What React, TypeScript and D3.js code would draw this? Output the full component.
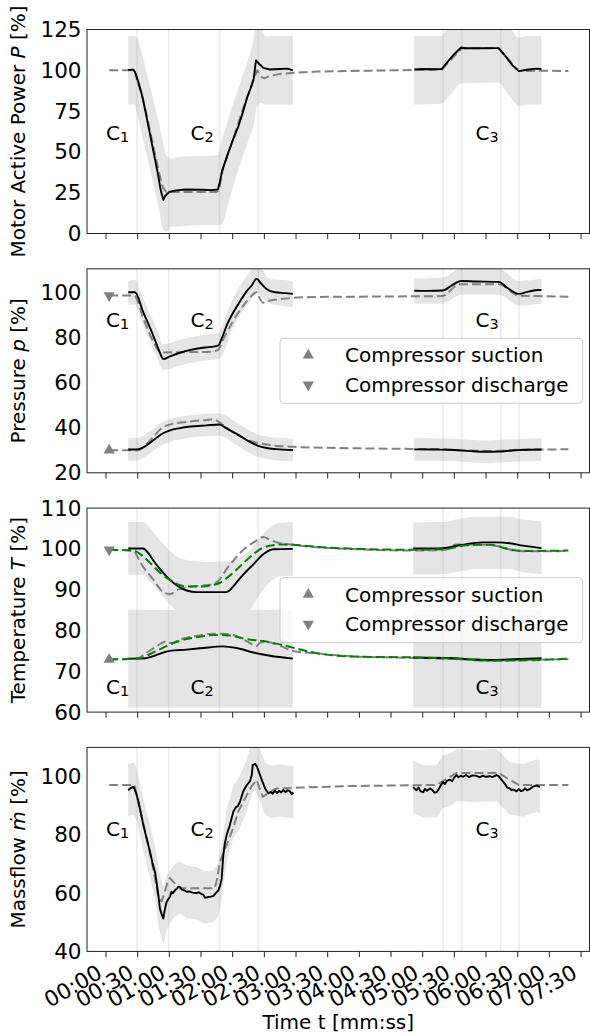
import React from "react";
import * as d3 from "d3";

type Pt = [number, number];
type Bd = [number, number, number];

// ---------------- axes / annotation data ----------------
const timeTicks = [0, 30, 60, 90, 120, 150, 180, 210, 240, 270, 300, 330, 360, 390, 420, 450];
const timeTickLabels = ["00:00", "00:30", "01:00", "01:30", "02:00", "02:30", "03:00", "03:30", "04:00", "04:30", "05:00", "05:30", "06:00", "06:30", "07:00", "07:30"];
const eventTimes = [29.4, 59.4, 107.6, 144.2, 319.3, 337, 374, 391.3];
const caseNames = ["1", "2", "3"];
const caseTimes = [0, 80, 350];
const legendLabels = ["Compressor suction", "Compressor discharge"];

const powerTicks = [0, 25, 50, 75, 100, 125];
const pressureTicks = [20, 40, 60, 80, 100];
const temperatureTicks = [60, 70, 80, 90, 100, 110];
const massflowTicks = [40, 60, 80, 100];

// ---------------- motor active power ----------------
const powerMeasA: Pt[] = [[21, 100.2], [26, 100.4], [28, 98], [31, 92], [34, 85], [37, 76], [41, 63], [45, 50], [49, 37], [52, 26], [54.3, 20.5], [56, 23], [60, 25.5], [65, 26.3], [75, 27], [90, 26.8], [100, 26.6], [106, 27], [108, 32], [110, 38.5], [115, 48], [120, 57], [125, 65], [130, 75], [134, 84], [137, 89], [140, 95], [142, 106], [145, 104], [149, 101.5], [155, 100.5], [165, 100.8], [172, 101], [177, 100]];
const powerMeasB: Pt[] = [[292, 100.5], [300, 100.8], [310, 100.6], [318, 100.7], [322, 104], [330, 110], [336.5, 114], [340, 113.5], [355, 113.5], [365, 113.6], [372, 113.6], [378, 109], [385, 103], [391, 99.5], [400, 100.5], [408, 101], [412.5, 100.8]];
const powerSim: Pt[] = [[3, 100], [27, 100], [30, 93], [34, 85], [38, 74], [42, 62], [46, 50], [50, 38], [54, 28], [57, 25.5], [70, 25.5], [90, 25.5], [105, 25.5], [107, 27], [111, 40], [120, 57], [130, 77], [137, 89], [143, 100], [147, 96], [150, 95], [155, 96.5], [165, 97.8], [180, 98.5], [200, 99.2], [250, 99.8], [292, 100.2], [318, 100.5], [337, 113.5], [372, 113.5], [391, 99.5], [410, 99.8], [438, 99.5]];
const powerBandA: Bd[] = [[21, 79, 121], [27, 79, 121], [30, 72, 119], [35, 58, 108], [40, 44, 95], [45, 30, 82], [50, 16, 68], [54, 3, 56], [57, 1, 48], [62, 4, 46], [70, 4.5, 47], [90, 5, 47.5], [106, 5, 48], [110, 6, 58], [115, 16, 68], [120, 28, 79], [125, 38, 88], [130, 48, 98], [135, 57, 107], [140, 67, 120], [143, 78, 130], [147, 80, 126], [151, 79, 121], [177, 79, 121]];
const powerBandB: Bd[] = [[292, 79, 121], [318, 79.5, 121], [322, 82, 125], [330, 88, 131], [337, 92, 135], [372, 92.5, 135], [378, 88, 130], [385, 82, 124], [391, 78, 120], [400, 79, 121], [412.5, 79, 121]];

// ---------------- pressure ----------------
const dischargeMeasA: Pt[] = [[21, 100], [27.5, 100], [35, 91.5], [45, 80.5], [50, 74.5], [54.3, 70.4], [60, 71.5], [70, 73.2], [80, 74.5], [90, 75.3], [100, 75.8], [106.5, 76.5], [110, 80], [115, 86], [120.5, 91], [127, 96], [133, 100.3], [138, 103], [142.6, 106], [147, 103.8], [152, 101.5], [160, 100], [170, 99.6], [177, 99.3]];
const dischargeMeasB: Pt[] = [[292, 100.7], [305, 100.6], [319, 100.8], [328, 103.2], [336.5, 105], [350, 104.8], [372, 104.6], [380, 102], [391, 99.3], [400, 100.3], [410, 101], [412.5, 101]];
const dischargeSim: Pt[] = [[3, 98.6], [27, 98.6], [30, 96], [35, 89], [40, 83], [45, 78], [50, 74], [53, 73.3], [60, 73.4], [80, 73.5], [100, 73.7], [106, 74.5], [112, 80], [120, 87], [130, 94], [138, 98.5], [142.6, 100], [146, 97], [149, 95.4], [155, 96.3], [165, 97], [177, 97.5], [200, 97.9], [250, 98.1], [318, 98.3], [335, 103.5], [372, 103.5], [391, 98.5], [410, 98.3], [438, 98]];
const dischargeBandA: Bd[] = [[21, 94.5, 105], [27.5, 94.5, 105.5], [32, 89, 101], [40, 80, 92], [48, 71.5, 84], [54.3, 65.5, 77], [60, 66, 77.5], [70, 67.5, 79], [90, 69.5, 81], [106.5, 70.5, 82], [112, 74, 88], [120, 84, 97], [130, 92, 105], [138, 97, 110], [142.6, 100, 112], [148, 97.5, 110], [155, 95, 106], [165, 94, 105.5], [177, 93.5, 105]];
const dischargeBandB: Bd[] = [[292, 95, 106], [319, 95, 106.5], [336.5, 99, 110.5], [372, 99, 110.5], [391, 94, 105], [412.5, 95, 106]];
const suctionMeasA: Pt[] = [[21, 30.3], [30, 30.4], [38, 32], [45, 34.5], [52, 37], [60, 38.7], [70, 39.8], [80, 40.5], [95, 41], [107, 41.4], [115, 39.5], [125, 36.9], [135, 34], [143, 32.2], [152, 31], [161, 30.5], [177, 30.1]];
const suctionMeasB: Pt[] = [[292, 30.4], [310, 30.3], [330, 30.1], [345, 29.6], [360, 29.3], [372, 29.4], [385, 29.9], [400, 30.2], [412.5, 30.3]];
const suctionSim: Pt[] = [[3, 30], [30, 30], [38, 32.5], [45, 36], [52, 39.5], [60, 41.3], [75, 42.5], [90, 43.2], [102, 43.6], [110, 41.5], [120, 38], [130, 35.5], [143, 33.3], [155, 32.3], [177, 31.5], [220, 31], [290, 30.6], [320, 30.5], [340, 29.9], [370, 29.7], [390, 30.2], [438, 30.4]];
const suctionBandA: Bd[] = [[21, 25.3, 35.3], [30, 25.4, 35.4], [40, 28, 38], [50, 31.5, 41.5], [60, 33.7, 43.7], [80, 35.5, 45.5], [107, 36.4, 46.4], [125, 31.9, 41.9], [143, 27.2, 37.2], [161, 25.5, 35.5], [177, 25.1, 35.1]];
const suctionBandB: Bd[] = [[292, 25.4, 35.4], [330, 25.1, 35.1], [360, 24.3, 34.3], [385, 24.9, 34.9], [412.5, 25.3, 35.3]];

// ---------------- temperature ----------------
const tDischargeMeasA: Pt[] = [[21, 100.1], [35, 100.1], [40, 99], [45, 97.1], [52, 94.8], [60.6, 92.4], [68.5, 90.8], [76.4, 89.8], [86, 89.4], [114, 89.4], [117, 89.8], [120.6, 90.8], [125, 92.2], [130, 93.7], [139.5, 96.2], [149, 98.7], [158.5, 99.9], [177, 100]];
const tDischargeMeasB: Pt[] = [[291, 100.1], [319, 100.2], [335, 100.9], [357, 101.6], [370, 101.6], [382.5, 101.4], [395, 100.8], [412.5, 100.2]];
const tDischargeSimGray: Pt[] = [[3, 99.8], [26, 99.6], [30, 98], [35.4, 95.5], [40, 94], [45, 92.4], [50, 90.6], [54.3, 89.4], [60.6, 88.9], [68.5, 90], [76.4, 90.6], [90, 91], [101.6, 91.4], [107.9, 92.6], [114, 95], [120.6, 97.1], [127, 99], [133, 100.4], [141, 101.8], [149, 102.9], [155, 102.3], [161.7, 101.6], [177, 101], [200, 100.4], [240, 99.9], [290, 99.6], [320, 99.7], [332, 101.1], [357, 101], [373, 100.6], [389, 99.5], [412, 99.4], [438, 99.5]];
const tDischargeSimGreen: Pt[] = [[3, 99.8], [26, 99.6], [35, 98.2], [44.8, 95.8], [52, 94], [60.6, 92.4], [68, 91.3], [76.4, 90.8], [92, 90.8], [100, 91.1], [108, 91.7], [116, 93.2], [124, 95], [132, 97], [140, 98.8], [148, 100.2], [156, 100.8], [166, 101.1], [177, 101], [200, 100.5], [240, 100], [290, 99.8], [320, 99.9], [342, 100.9], [364, 101], [382, 99.9], [398, 99.5], [438, 99.6]];
const tDischargeBandA: Bd[] = [[21, 93.7, 106.6], [35, 93.6, 106.6], [45, 91, 104], [55, 88, 101], [66, 85, 98.3], [76, 83.3, 97.3], [100, 82.8, 96.8], [116, 82.9, 97], [125, 83.6, 97.8], [136, 85, 99.5], [145, 88.5, 102.5], [155, 91.8, 105.2], [165, 93.3, 106.4], [177, 93.4, 106.6]];
const tDischargeBandB: Bd[] = [[291, 93.7, 106.5], [319, 93.8, 106.6], [335, 94.5, 107.4], [350, 95, 107.9], [382, 95, 107.9], [395, 94.3, 107.2], [412.5, 93.8, 106.7]];
const tSuctionMeasA: Pt[] = [[21, 73.1], [34, 73.1], [44.8, 73.7], [52, 74.4], [60.6, 75], [76.4, 75.3], [92, 75.7], [111, 76.1], [123.7, 75.7], [139.5, 74.6], [155.3, 73.8], [177, 73.1]];
const tSuctionMeasB: Pt[] = [[291, 73.4], [330, 73.2], [350, 72.9], [365, 72.8], [380, 72.9], [400, 73.1], [412.5, 73.2]];
const tSuctionSimGray: Pt[] = [[3, 72.9], [30, 73.2], [38, 74.5], [44.8, 75.6], [52, 76.8], [57, 77.3], [62, 76.9], [70, 77.8], [80, 78.4], [101.6, 79.2], [117, 79.1], [133, 77.4], [142.7, 76.2], [146, 77], [152, 77.2], [161.7, 76.6], [177, 75], [200, 74.4], [237, 73.6], [291, 73.3], [330, 73], [364, 72.6], [400, 72.8], [438, 73]];
const tSuctionSimGreen: Pt[] = [[3, 72.9], [30, 73.1], [44.8, 74.6], [52, 75.5], [60.6, 76.6], [76.4, 77.9], [90, 78.5], [101.6, 78.9], [117, 78.8], [133, 77.9], [149, 77.4], [165, 76.6], [177, 75.8], [205, 74.2], [237, 73.6], [291, 73.4], [330, 73.1], [364, 72.6], [400, 72.7], [438, 73.1]];
const tSuctionBandA: Bd[] = [[21, 61.1, 85.1], [177, 61.1, 85.1]];
const tSuctionBandB: Bd[] = [[291, 61.1, 85.1], [412.5, 61.1, 85.1]];

// ---------------- massflow ----------------
const massMeasA: Pt[] = [[21, 95.4], [23, 96], [25.9, 96.5], [27, 95.8], [29.1, 93.7], [31, 91], [33, 87.5], [35.4, 83.4], [38, 79.5], [41.7, 74.2], [44, 70.5], [46.4, 67.3], [48, 63.5], [49.6, 59.3], [51.1, 54.7], [52.5, 53], [54.3, 51.3], [55.5, 54], [57.4, 57], [59, 58], [60.6, 58.7], [62, 60.5], [63.5, 60], [65.3, 61], [67, 61.5], [68.5, 62.2], [70.1, 62.1], [72, 61.2], [74, 61], [76.4, 60.5], [79, 60.6], [82, 60.2], [85.9, 60], [88, 60.3], [90, 59.8], [92.2, 59.5], [93.8, 58.4], [96, 58.6], [99, 58.8], [101.6, 59], [104, 60], [106.4, 61], [108, 62.5], [109.6, 65], [110.5, 70], [111.1, 73], [112.5, 77], [114.3, 80], [117, 83], [120.6, 88], [123, 89.5], [125, 90], [127, 91.5], [130, 95], [133.3, 97.1], [136.4, 98.5], [138, 100.5], [139, 104], [141.2, 104.5], [143, 103.5], [145.9, 100.6], [148, 98.5], [150.7, 96], [153.8, 94.3], [156, 94.8], [158, 94.2], [160, 95.3], [162, 94.4], [164, 95.2], [166, 94.6], [168, 95.5], [170, 94.7], [172, 95.4], [174, 95.1], [176, 94], [177.5, 94.6]];
const massMeasB: Pt[] = [[291, 96.5], [292.5, 95.8], [294.1, 95.4], [296, 96.3], [298, 95], [300.5, 94.7], [302, 95.8], [304, 95.2], [306.8, 96], [309, 95.5], [311, 94.6], [313.1, 94.7], [315, 95.6], [317, 97], [319.4, 98.3], [321, 97.5], [323, 98.6], [325.7, 99], [328, 98.5], [330, 99.8], [332, 100.6], [334, 99.8], [336, 100.4], [338.4, 100], [341, 100.6], [344, 99.9], [347, 100.5], [351, 100.3], [354, 99.8], [357, 100.4], [360, 100], [363.6, 100.2], [366, 99.9], [369.9, 100.6], [372, 100.2], [374, 99.3], [376.2, 98.3], [378, 97.5], [380, 96.3], [382.5, 96], [384, 95.4], [386, 95.6], [388.9, 95], [391, 95.8], [393, 95.1], [395.2, 95.3], [397, 96], [399, 95.4], [401.5, 95.8], [404, 96.5], [406, 96.8], [407.8, 97], [409.5, 96.7], [411, 96.5]];
const massSim: Pt[] = [[3, 97.2], [27, 97.2], [29, 94], [35, 84.5], [41, 75], [46, 66], [50, 58], [52.5, 57.2], [55, 59.5], [58, 63.5], [60.6, 65.2], [64, 63.8], [70, 61.7], [103, 61.7], [105, 64.5], [108, 70.9], [114.3, 76.6], [120, 82], [125.3, 88.1], [133.3, 93.7], [138, 96.8], [142.8, 98.9], [145.5, 96], [148.5, 93.1], [153, 94.2], [161.7, 96], [184, 96.3], [230, 96.8], [313, 97.2], [319, 98.5], [332, 101.3], [372, 101.3], [380, 99.5], [391, 97.2], [438, 97.2]];
const massBandA: Bd[] = [[21, 86.5, 104.3], [26, 87, 105], [29, 85, 103], [33, 78.5, 96.5], [38, 70.5, 88.5], [42, 65, 83], [46.4, 58.3, 76.3], [50, 48, 68], [54.3, 42.3, 62], [57.4, 47.5, 66], [60.6, 49.7, 67.7], [65.3, 52, 70], [70, 53, 71], [76.4, 51.5, 69.5], [85.9, 51, 69], [93.8, 49.5, 67.5], [101.6, 50, 68], [106.4, 52, 70], [110.5, 60, 79], [114.3, 71, 89], [120.6, 79, 97], [127, 82.5, 100.5], [133.3, 88, 106], [139, 95, 113], [141.2, 95.5, 113.5], [145.9, 91.6, 109.6], [150.7, 87, 105], [156, 85.8, 103.8], [165, 86.3, 104.3], [177.5, 85.6, 103.6]];
const massBandB: Bd[] = [[291, 87.5, 105.5], [300.5, 86, 104], [313.1, 86, 104], [319.4, 89.3, 107.3], [325.7, 90, 108], [332, 91.6, 109.6], [351, 91.3, 109.3], [369.9, 91.6, 109.6], [376.2, 89.3, 107.3], [382.5, 87, 105], [395.2, 86.3, 104.3], [407.8, 88, 106], [411, 87.5, 105.5]];

// ---------------- layout ----------------
const FONT = "DejaVu Sans";
const FS = 20;
const TICK_FS = 21.5;
const LEFT = 87;
const RIGHT = 589.5;
const PANEL_H = 204;
const PANEL_TOPS = [29.5, 268.8, 508.1, 747.4];
const BAND = "#e5e5e5";
const GRAY = "#808080";
const GREEN = "#008000";

type LineSpec = { data: Pt[]; color: string; dash?: boolean; curve: d3.CurveFactory };
type Panel = {
  domain: [number, number];
  ticks: number[];
  label: [string, string, string];
  bands: Bd[][];
  lines: LineSpec[];
  markers?: { up: Pt; down: Pt };
  legend?: boolean;
  caseY: number;
  bandCurve: d3.CurveFactory;
};

const lin = d3.curveLinear;
const mono = d3.curveMonotoneX;

const panels: Panel[] = [
  {
    domain: [0, 125], ticks: powerTicks, label: ["Motor Active Power ", "P", " [%]"],
    bands: [powerBandA, powerBandB],
    lines: [
      { data: powerSim, color: GRAY, dash: true, curve: lin },
      { data: powerMeasA, color: "#000", curve: lin },
      { data: powerMeasB, color: "#000", curve: lin },
    ],
    caseY: 61.6, bandCurve: mono,
  },
  {
    domain: [20, 110.4], ticks: pressureTicks, label: ["Pressure ", "p", " [%]"],
    bands: [dischargeBandA, dischargeBandB, suctionBandA, suctionBandB],
    lines: [
      { data: dischargeSim, color: GRAY, dash: true, curve: mono },
      { data: suctionSim, color: GRAY, dash: true, curve: mono },
      { data: dischargeMeasA, color: "#000", curve: mono },
      { data: dischargeMeasB, color: "#000", curve: mono },
      { data: suctionMeasA, color: "#000", curve: mono },
      { data: suctionMeasB, color: "#000", curve: mono },
    ],
    markers: { up: suctionSim[0], down: dischargeSim[0] },
    legend: true, caseY: 87.5, bandCurve: mono,
  },
  {
    domain: [60, 110], ticks: temperatureTicks, label: ["Temperature ", "T", " [%]"],
    bands: [tDischargeBandA, tDischargeBandB, tSuctionBandA, tSuctionBandB],
    lines: [
      { data: tDischargeSimGray, color: GRAY, dash: true, curve: mono },
      { data: tSuctionSimGray, color: GRAY, dash: true, curve: mono },
      { data: tDischargeMeasA, color: "#000", curve: mono },
      { data: tDischargeMeasB, color: "#000", curve: mono },
      { data: tSuctionMeasA, color: "#000", curve: mono },
      { data: tSuctionMeasB, color: "#000", curve: mono },
      { data: tDischargeSimGreen, color: GREEN, dash: true, curve: mono },
      { data: tSuctionSimGreen, color: GREEN, dash: true, curve: mono },
    ],
    markers: { up: tSuctionSimGray[0], down: tDischargeSimGray[0] },
    legend: true, caseY: 66.2, bandCurve: mono,
  },
  {
    domain: [40, 110.1], ticks: massflowTicks, label: ["Massflow ", "\u1E41", " [%]"],
    bands: [massBandA, massBandB],
    lines: [
      { data: massSim, color: GRAY, dash: true, curve: lin },
      { data: massMeasA, color: "#000", curve: lin },
      { data: massMeasB, color: "#000", curve: lin },
    ],
    caseY: 82.1, bandCurve: lin,
  },
];

const x = d3.scaleLinear().domain([-18, 458]).range([LEFT, RIGHT]);
const triUp = d3.symbol(d3.symbolTriangle, 55)() as string;

export default function App() {
  return (
    <svg width={590} height={1036} style={{ position: "absolute", left: 0, top: 0 }} fontFamily={FONT}>
      <rect x={0} y={0} width={590} height={1036} fill="white" />
      {panels.map((p, i) => {
        const top = PANEL_TOPS[i];
        const bottom = top + PANEL_H;
        const y = d3.scaleLinear().domain(p.domain).range([bottom, top]);
        const line = (c: d3.CurveFactory) => d3.line<Pt>().x((d) => x(d[0])).y((d) => y(d[1])).curve(c);
        const area = d3.area<Bd>().x((d) => x(d[0])).y0((d) => y(d[1])).y1((d) => y(d[2])).curve(p.bandCurve);
        const clipId = `clip${i}`;
        return (
          <g key={i}>
            <defs>
              <clipPath id={clipId}>
                <rect x={LEFT} y={top} width={RIGHT - LEFT} height={PANEL_H} />
              </clipPath>
            </defs>
            <g clipPath={`url(#${clipId})`}>
              {p.bands.map((b, j) => (
                <path key={j} d={area(b) as string} fill={BAND} stroke="none" />
              ))}
              {eventTimes.map((t, j) => (
                <line key={j} x1={x(t)} x2={x(t)} y1={top} y2={bottom} stroke={GRAY} strokeOpacity={0.15} strokeWidth={1.6} />
              ))}
              {p.lines.map((l, j) => (
                <path key={j} d={line(l.curve)(l.data) as string} fill="none" stroke={l.color}
                  strokeWidth={l.dash ? 2 : 1.9} strokeDasharray={l.dash ? "9,4" : undefined} strokeLinejoin="round" />
              ))}
              {p.markers && (
                <g fill={GRAY}>
                  <path d={triUp} transform={`translate(${x(p.markers.up[0])},${y(p.markers.up[1])})`} />
                  <path d={triUp} transform={`translate(${x(p.markers.down[0])},${y(p.markers.down[1])}) rotate(180)`} />
                </g>
              )}
            </g>
            {caseNames.map((c, j) => (
              <text key={j} x={x(caseTimes[j])} y={y(p.caseY) + 7} fontSize={FS} fill="#000">
                C<tspan fontSize={FS * 0.72} dy={2}>{c}</tspan>
              </text>
            ))}
            <rect x={LEFT} y={top} width={RIGHT - LEFT} height={PANEL_H} fill="none" stroke="#222" strokeWidth={1} />
            {p.ticks.map((t) => (
              <text key={t} x={81.5} y={y(t)} textAnchor="end" dominantBaseline="central" fontSize={TICK_FS} fill="#000">{t}</text>
            ))}
            {timeTicks.map((t) => (
              <line key={t} x1={x(t)} x2={x(t)} y1={bottom} y2={bottom + 5.7} stroke="#222" strokeWidth={1} />
            ))}
            <text transform={`translate(25,${(top + bottom) / 2}) rotate(-90)`} textAnchor="middle" fontSize={FS} fill="#000">
              {p.label[0]}<tspan fontStyle="italic">{p.label[1]}</tspan>{p.label[2]}
            </text>
            {p.legend && (
              <g>
                <rect x={280} y={top + 69.5} width={302.7} height={65} rx={4} fill="white" fillOpacity={0.8} stroke="#cccccc" strokeWidth={1} />
                <path d={triUp} fill={GRAY} transform={`translate(308.3,${top + 86.5})`} />
                <path d={triUp} fill={GRAY} transform={`translate(308.3,${top + 116}) rotate(180)`} />
                {legendLabels.map((s, j) => (
                  <text key={j} x={345} y={top + 86.5 + j * 29.5} dominantBaseline="central" fontSize={FS} fill="#000">{s}</text>
                ))}
              </g>
            )}
          </g>
        );
      })}
      {timeTicks.map((t, j) => (
        <text key={t} transform={`translate(${x(t) - 2.5},977) rotate(-30)`} textAnchor="end" fontSize={TICK_FS} fill="#000">
          {timeTickLabels[j]}
        </text>
      ))}
      <text x={(LEFT + RIGHT) / 2} y={1029} textAnchor="middle" fontSize={FS} fill="#000">Time t [mm:ss]</text>
    </svg>
  );
}
